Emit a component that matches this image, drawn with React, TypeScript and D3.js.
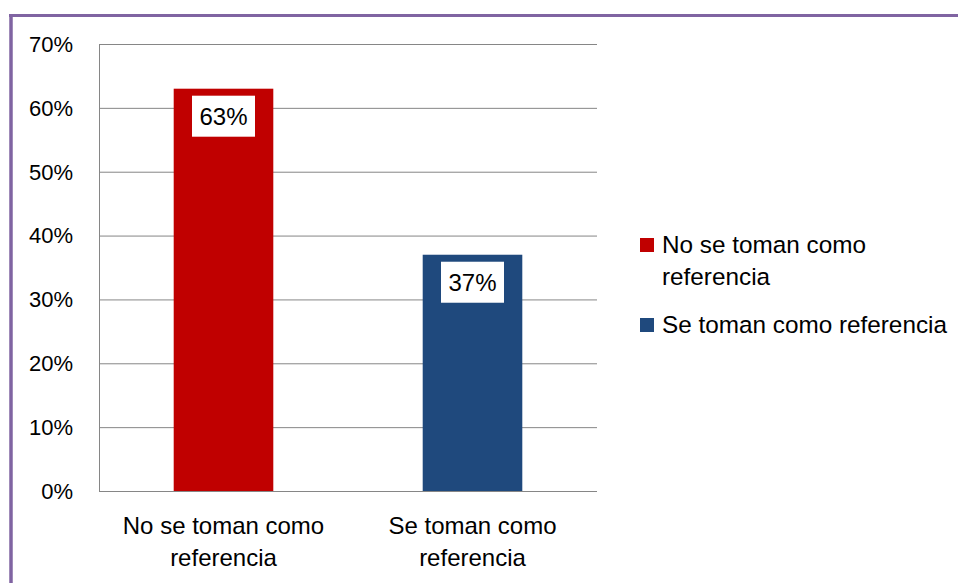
import React from "react";
import * as d3 from "d3";

const categories = ["No se toman como referencia", "Se toman como referencia"];
const categoryLines = [["No se toman como", "referencia"], ["Se toman como", "referencia"]];
const values = [63, 37];
const valueLabels = ["63%", "37%"];
const colors = ["#C00000", "#1F497D"];
const yTicks = [0, 10, 20, 30, 40, 50, 60, 70];
const legendLines = [["No se toman como", "referencia"], ["Se toman como referencia"]];

const W = 958;
const H = 583;
const FONT = "'Liberation Sans', Arial, sans-serif";

export default function App() {
  const x = d3.scaleBand<string>().domain(categories).range([99, 597]).paddingInner(0.6).paddingOuter(0.3);
  const y = d3.scaleLinear().domain([0, 70]).range([491, 44]);
  const grid = "#868686";
  return (
    <svg width={W} height={H} style={{ position: "absolute", left: 0, top: 0, background: "#fff" }} fontFamily={FONT}>
      <rect x={0} y={0} width={W} height={H} fill="#fff" />
      {/* frame */}
      <line x1={9} x2={W} y1={15.5} y2={15.5} stroke="#8064A2" strokeWidth={3} />
      <line x1={11} x2={11} y1={14} y2={H} stroke="#8064A2" strokeWidth={3.5} />
      {/* gridlines */}
      {yTicks.map((t) => (
        <g key={t}>
          <line x1={99} x2={597} y1={y(t) + 0.5} y2={y(t) + 0.5} stroke={grid} strokeWidth={1} />
          <text x={73} y={y(t)} dy="0.36em" textAnchor="end" fontSize={22} fill="#000">
            {t}%
          </text>
        </g>
      ))}
      <line x1={99.5} x2={99.5} y1={y(70)} y2={y(0) + 1} stroke={grid} strokeWidth={1} />
      {/* bars */}
      {categories.map((c, i) => {
        const bx = x(c)!;
        const bw = x.bandwidth();
        const top = y(values[i]);
        const cx = bx + bw / 2;
        return (
          <g key={c}>
            <rect x={bx} y={top} width={bw} height={y(0) - top} fill={colors[i]} />
            <rect x={cx - 31.5} y={top + 7} width={63} height={41} fill="#fff" />
            <text x={cx} y={top + 27.5} dy="0.36em" textAnchor="middle" fontSize={24} fill="#000">
              {valueLabels[i]}
            </text>
            {categoryLines[i].map((ln, j) => (
              <text key={j} x={cx} y={534 + j * 32} textAnchor="middle" fontSize={24} fill="#000">
                {ln}
              </text>
            ))}
          </g>
        );
      })}
      {/* legend */}
      {categories.map((c, i) => {
        const baseY = i === 0 ? 253 : 333;
        return (
          <g key={"lg" + c}>
            <rect x={640} y={baseY - 15} width={14} height={14} fill={colors[i]} />
            {legendLines[i].map((ln, j) => (
              <text key={j} x={662} y={baseY + j * 32} fontSize={24.3} fill="#000">
                {ln}
              </text>
            ))}
          </g>
        );
      })}
    </svg>
  );
}
